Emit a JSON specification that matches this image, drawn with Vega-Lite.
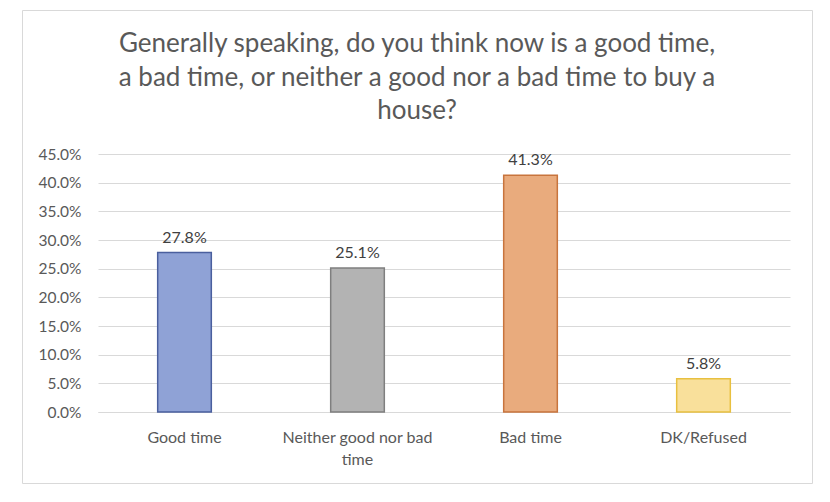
{
  "$schema": "https://vega.github.io/schema/vega-lite/v6.json",
  "width": 790,
  "height": 473,
  "autosize": "none",
  "padding": {"left": 22, "top": 10, "right": 18, "bottom": 19},
  "background": "white",
  "config": {
    "view": {"stroke": "#d9d9d9", "strokeWidth": 1},
    "font": "Lato"
  },
  "title": {
    "text": ["Generally speaking, do you think now is a good time,", "a bad time, or neither a good nor a bad time to buy a", "house?"],
    "anchor": "middle",
    "frame": "group",
    "orient": "top",
    "baseline": "top",
    "offset": -114,
    "fontSize": 26,
    "fontWeight": "normal",
    "color": "#595959",
    "lineHeight": 33.5,
    "font": "Lato"
  },
  "data": {
    "values": [
      {"response": "Good time", "share": 0.278},
      {"response": "Neither good nor bad time", "share": 0.251},
      {"response": "Bad time", "share": 0.413},
      {"response": "DK/Refused", "share": 0.058}
    ]
  },
  "encoding": {
    "x": {
      "field": "response",
      "type": "nominal",
      "sort": null,
      "scale": {"range": [76, 768], "paddingInner": 0.69, "paddingOuter": 0.345},
      "axis": {
        "title": null,
        "orient": "bottom",
        "offset": -71,
        "labelAngle": 0,
        "ticks": false,
        "domain": true,
        "domainColor": "#d9d9d9",
        "labelFontSize": 16,
        "labelColor": "#595959",
        "labelPadding": 17,
        "labelLineHeight": 22,
        "labelExpr": "datum.label == 'Neither good nor bad time' ? ['Neither good nor bad', 'time'] : datum.label"
      }
    },
    "y": {
      "field": "share",
      "type": "quantitative",
      "scale": {"domain": [0, 0.45], "range": [402, 144], "nice": false},
      "axis": {
        "title": null,
        "orient": "left",
        "offset": -76,
        "values": [0, 0.05, 0.1, 0.15, 0.2, 0.25, 0.3, 0.35, 0.4, 0.45],
        "format": ".1%",
        "ticks": false,
        "domain": false,
        "grid": true,
        "gridColor": "#d9d9d9",
        "gridWidth": 1,
        "labelFontSize": 15.5,
        "labelColor": "#595959",
        "labelPadding": 17
      }
    }
  },
  "layer": [
    {
      "mark": {"type": "bar", "strokeWidth": 1.5},
      "encoding": {
        "fill": {
          "field": "response",
          "type": "nominal",
          "scale": {
            "domain": ["Good time", "Neither good nor bad time", "Bad time", "DK/Refused"],
            "range": ["#8FA2D6", "#B3B3B3", "#E9AB7D", "#F9E09B"]
          },
          "legend": null
        },
        "stroke": {
          "field": "response",
          "type": "nominal",
          "scale": {
            "domain": ["Good time", "Neither good nor bad time", "Bad time", "DK/Refused"],
            "range": ["#4A5F9E", "#7F7F7F", "#C8743D", "#E8C040"]
          },
          "legend": null
        }
      }
    },
    {
      "mark": {"type": "text", "baseline": "bottom", "dy": -7, "fontSize": 16, "color": "#404040"},
      "encoding": {
        "text": {"field": "share", "type": "quantitative", "format": ".1%"}
      }
    }
  ]
}
